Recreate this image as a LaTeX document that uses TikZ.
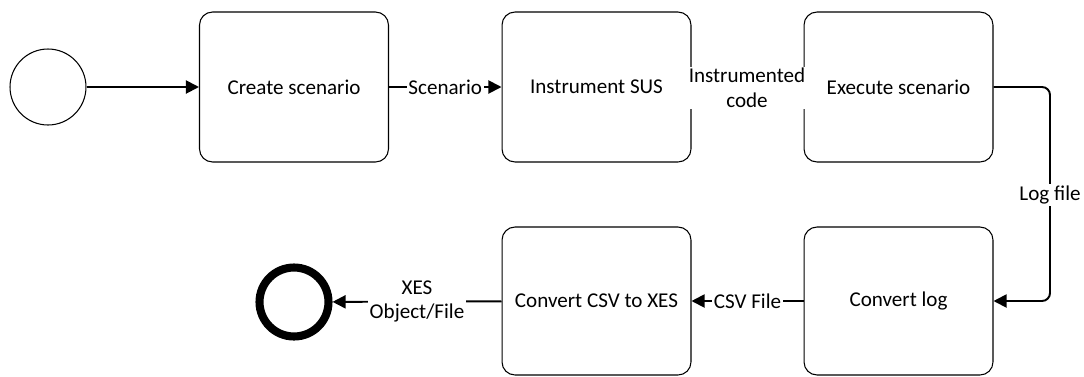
\documentclass[tikz,border=0pt]{standalone}
\usepackage{fontspec}
\setmainfont{Carlito}
\usetikzlibrary{arrows.meta}

\begin{document}
\begin{tikzpicture}[x=0.02cm,y=-0.02cm,
  font=\fontsize{12}{13}\selectfont,
  task/.style={draw=black,line width=0.6pt,rounded corners=0.26cm,
    minimum width=3.78cm,minimum height=3.0cm,align=center,inner sep=0pt},
  flow/.style={draw=black,line width=1.1pt,-{Triangle[length=7.5pt,width=7.5pt]}},
  lbl/.style={fill=white,inner sep=1pt,align=center,font=\fontsize{12}{14}\selectfont}]
  \useasboundingbox (0,0) rectangle (1084,376);

  % events
  \node[circle,draw=black,line width=0.6pt,minimum size=1.52cm,inner sep=0pt] (start) at (48,87) {};
  \node[circle,draw=black,line width=4.6pt,minimum size=1.38cm,inner sep=0pt] (end) at (294,302) {};

  % tasks, upper row
  \node[task] (create) at (294,87) {Create scenario};
  \node[task] (instr) at (596.5,87) {Instrument SUS};
  \node[task] (exec) at (898.5,87) {Execute scenario};
  % tasks, lower row
  \node[task,minimum height=2.96cm] (conv) at (898.5,301) {Convert log};
  \node[task,minimum height=2.96cm] (csv2xes) at (596.5,301) {Convert CSV to XES};

  % sequence flows
  \draw[flow] (start) -- (create);
  \draw[flow] (create) -- node[lbl] {Scenario} (instr);
  \draw[flow] (instr) -- (exec);
  \draw[flow,rounded corners=0.16cm] (exec.east) -- (1050,87) -- (1050,301) -- (conv.east);
  \draw[flow] (conv) -- node[lbl] {CSV File} (csv2xes);
  \draw[flow] (csv2xes) -- node[lbl] {XES\\Object/File} (end);

  % labels placed over the flows
  \node[lbl] (lblcode) at (747,88) {Instrumented\\code};
  \node[lbl] (lbllog) at (1050,195) {Log file};
\end{tikzpicture}
\end{document}
